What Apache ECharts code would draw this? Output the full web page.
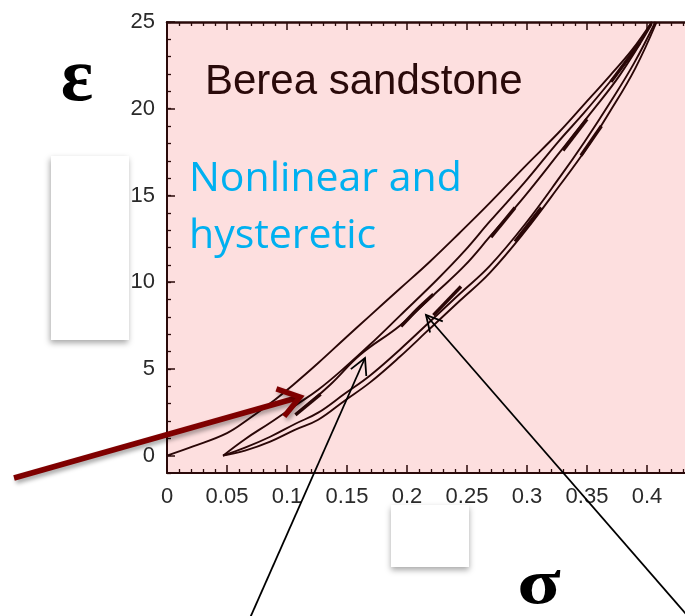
<!DOCTYPE html>
<html>
<head>
<meta charset="utf-8">
<script src="https://cdn.jsdelivr.net/npm/echarts@6/dist/echarts.min.js"></script>
<style>
html,body{margin:0;padding:0;background:#fff;}
#chart{width:685px;height:616px;}
</style>
</head>
<body>
<div id="chart"></div>
<script>
// ---- tick values ----
const xMin = 0, xMax = 0.45, xStep = 0.05;
const yMin = -1, yMax = 25;
const yLabelValues = [0, 5, 10, 15, 20, 25];
const yMinorValues = [-1,0,1,2,3,4,5,6,7,8,9,10,11,12,13,14,15,16,17,18,19,20,21,22,23,24,25];

// ---- data: [sigma, epsilon] ----
const curveLoading = [
  [0,0],[0.0217,0.53],[0.05,1.3],[0.068,2.11],[0.0858,3.0],[0.1053,4.09],[0.126,5.34],
  [0.148,6.74],[0.169,8.06],[0.194,9.62],[0.219,11.18],[0.244,12.85],[0.269,14.57],
  [0.298,16.65],[0.326,18.6],[0.348,20.28],[0.369,21.9],[0.3875,23.39],[0.404,25.0]
];
const curveUnloading = [
  [0.0467,0],[0.065,0.95],[0.086,1.9],[0.107,2.9],[0.126,3.8],[0.148,5.07],[0.169,6.39],
  [0.194,8.06],[0.225,10.14],[0.248,11.8],[0.269,13.5],[0.298,15.75],[0.326,18.09],
  [0.348,19.8],[0.369,21.54],[0.388,23.2],[0.404,25]
];
const curveInner = [
  [0.109,2.48],[0.136,4.09],[0.161,5.82],[0.194,7.49],[0.225,9.45],[0.248,10.95],[0.269,12.62],
  [0.298,14.95],[0.3275,17.51],[0.3525,19.7],[0.3775,21.95],[0.404,24.88]
];
const curveReloadA = [
  [0.0467,0],[0.065,0.46],[0.086,1.09],[0.107,1.84],[0.126,2.48],[0.148,3.57],[0.169,4.61],
  [0.194,6.11],[0.219,7.72],[0.244,9.33],[0.269,10.94],[0.298,13.31],[0.3275,16.07],
  [0.348,18.1],[0.369,20.33],[0.389,22.6],[0.407,25]
];
const curveReloadB = [
  [0.0467,0],[0.065,0.29],[0.086,0.81],[0.107,1.5],[0.126,2.07],[0.148,3.17],[0.169,4.21],
  [0.194,5.7],[0.219,7.32],[0.244,8.93],[0.269,10.54],[0.298,12.9],[0.3275,15.6],
  [0.349,17.65],[0.369,19.82],[0.39,22.3],[0.408,25]
];
const loopSegments = [
  [[0.107,2.35],[0.128,3.55]],
  [[0.195,7.45],[0.208,8.4],[0.222,9.3]],
  [[0.27,12.6],[0.29,14.3]],
  [[0.29,12.35],[0.312,14.3]],
  [[0.33,17.6],[0.35,19.4]],
  [[0.37,21.55],[0.394,23.8]],
  [[0.345,17.3],[0.362,19.0]],
  [[0.222,8.1],[0.245,9.75]]
];

const curveColor = '#2a0707';
const axisColor = '#2a0a0a';

function lineSeries(data, width, smooth) {
  return {
    type: 'line', data: data, showSymbol: false, symbol: 'none', smooth: smooth,
    lineStyle: { color: curveColor, width: width }, silent: true, animation: false,
    xAxisIndex: 0, yAxisIndex: 0
  };
}
const series = [
  lineSeries(curveLoading, 1.9, 0.4),
  lineSeries(curveUnloading, 1.9, 0.4),
  lineSeries(curveInner, 1.9, 0.4),
  lineSeries(curveReloadA, 1.9, 0.4),
  lineSeries(curveReloadB, 1.9, 0.4)
].concat(loopSegments.map(s => lineSeries(s, 3.4, 0.2)));

function arrow(x1, y1, x2, y2, color, width, head, ang, shadow) {
  const dx = x1 - x2, dy = y1 - y2, L = Math.hypot(dx, dy);
  const ux = dx / L, uy = dy / L, a = ang * Math.PI / 180;
  const r1 = [x2 + head * (ux * Math.cos(a) - uy * Math.sin(a)), y2 + head * (ux * Math.sin(a) + uy * Math.cos(a))];
  const r2 = [x2 + head * (ux * Math.cos(-a) - uy * Math.sin(-a)), y2 + head * (ux * Math.sin(-a) + uy * Math.cos(-a))];
  const st = { stroke: color, lineWidth: width, lineCap: 'butt', lineJoin: 'miter', fill: null };
  if (shadow) { st.shadowBlur = 4; st.shadowOffsetX = 2; st.shadowOffsetY = 3; st.shadowColor = 'rgba(0,0,0,0.35)'; }
  return [
    { type: 'line', z: 100, shape: { x1: x1, y1: y1, x2: x2, y2: y2 }, style: Object.assign({}, st) },
    { type: 'polyline', z: 100, shape: { points: [r1, [x2, y2], r2] }, style: Object.assign({}, st) }
  ];
}

const chart = echarts.init(document.getElementById('chart'), null, { renderer: 'canvas' });
const option = {
  animation: false,
  backgroundColor: '#ffffff',
  grid: { left: 167, top: 22, width: 540, bottom: 143, outerBoundsMode: 'none', containLabel: false,
    show: true, backgroundColor: '#fddfdf', borderWidth: 0 },
  xAxis: [
    {
      type: 'value', min: xMin, max: xMax, interval: xStep, position: 'bottom',
      axisLine: { show: true, onZero: false, lineStyle: { color: axisColor, width: 2 } },
      axisTick: { show: true, inside: true, length: 8, lineStyle: { color: axisColor, width: 1.5 } },
      minorTick: { show: true, splitNumber: 5, length: 4, lineStyle: { color: axisColor, width: 1.3 } },
      splitLine: { show: false },
      axisLabel: { show: true, showMaxLabel: false, margin: 13, fontSize: 22, color: '#2a2a2a', fontFamily: 'Liberation Sans',
        formatter: v => String(+v.toFixed(2)) }
    },
    {
      type: 'value', min: xMin, max: xMax, interval: xStep, position: 'top',
      axisLine: { show: true, onZero: false, lineStyle: { color: axisColor, width: 2.5 } },
      axisTick: { show: true, inside: true, length: 8, lineStyle: { color: axisColor, width: 1.5 } },
      minorTick: { show: true, splitNumber: 5, length: 4, lineStyle: { color: axisColor, width: 1.3 } },
      splitLine: { show: false }, axisLabel: { show: false }
    }
  ],
  yAxis: [
    {
      type: 'value', min: yMin, max: yMax, position: 'left',
      axisLine: { show: true, onZero: false, lineStyle: { color: axisColor, width: 2 } },
      axisTick: { show: true, inside: true, length: 8, customValues: yLabelValues, lineStyle: { color: axisColor, width: 1.5 } },
      splitLine: { show: false },
      axisLabel: { show: true, margin: 12, fontSize: 22, color: '#2a2a2a', fontFamily: 'Liberation Sans', customValues: yLabelValues }
    },
    {
      type: 'value', min: yMin, max: yMax, position: 'left', offset: 0,
      axisLine: { show: false },
      axisTick: { show: true, inside: true, length: 4, customValues: yMinorValues, lineStyle: { color: axisColor, width: 1.3 } },
      splitLine: { show: false }, axisLabel: { show: false }
    }
  ],
  series: series,
  graphic: [
    { type: 'rect', z: 90, shape: { x: 51, y: 156, width: 78, height: 184 }, style: { fill: '#ffffff', shadowBlur: 6, shadowOffsetX: -1, shadowOffsetY: 3, shadowColor: 'rgba(0,0,0,0.35)' } },
    { type: 'rect', z: 90, shape: { x: 391, y: 505, width: 78, height: 62 }, style: { fill: '#ffffff', shadowBlur: 6, shadowOffsetX: 0, shadowOffsetY: 3, shadowColor: 'rgba(0,0,0,0.35)' } },
    { type: 'text', z: 95, x: 77, y: 80, style: { text: 'ε', font: 'bold 76px "Liberation Serif"', fill: '#000', align: 'center', verticalAlign: 'middle' } },
    { type: 'text', z: 95, x: 539, y: 586, scaleX: 1.25, style: { text: 'σ', font: 'bold 64px "Liberation Serif"', fill: '#000', align: 'center', verticalAlign: 'middle' } },
    { type: 'text', z: 95, x: 205, y: 82, style: { text: 'Berea sandstone', font: '42px "Liberation Sans"', fill: '#2a0a0a', align: 'left', verticalAlign: 'middle' } },
    { type: 'text', z: 95, x: 189, y: 179, style: { text: 'Nonlinear and', font: '41px "Open Sans"', fill: '#00b0f0', align: 'left', verticalAlign: 'middle' } },
    { type: 'text', z: 95, x: 189, y: 236, style: { text: 'hysteretic', font: '41px "Open Sans"', fill: '#00b0f0', align: 'left', verticalAlign: 'middle' } }
  ]
    .concat(arrow(14, 478, 300, 397, '#7f0000', 5.5, 25, 35, true))
    .concat(arrow(250, 618, 365, 358, '#000000', 1.8, 18, 28, false))
    .concat(arrow(686, 614, 426, 315, '#000000', 1.8, 18, 28, false))
};
chart.setOption(option);
</script>
</body>
</html>
